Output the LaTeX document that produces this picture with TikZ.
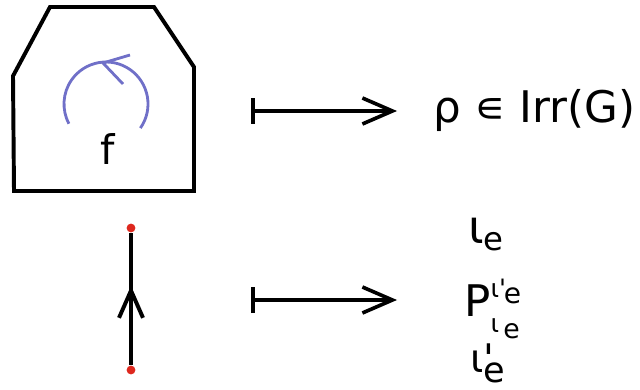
\documentclass[tikz,border=0pt]{standalone}
\usepackage{fontspec}
\setmainfont{DejaVu Sans}
\usetikzlibrary{arrows.meta,decorations.markings}
\definecolor{loopblue}{RGB}{112,112,200}
\definecolor{dotred}{RGB}{222,40,30}
\newcommand{\fs}[1]{\fontsize{#1}{#1}\selectfont}
\newcommand{\qs}{\textquotesingle}

\begin{document}
\begin{tikzpicture}[>=latex]
\tikzstyle{lbl}=[inner sep=0pt, anchor=base west]
\tikzstyle{mapsto}=[line width=2.6pt, {Bar[width=0.65cm]}-{Straight Barb[length=0.75cm,width=0.65cm]}]
\tikzstyle{vtx}=[circle, fill=dotred, inner sep=0pt, minimum size=0.22cm]
\tikzstyle{edgeline}=[line width=2.8pt, postaction={decorate},
decoration={markings, mark=at position 0.6 with {\arrow{Straight Barb[length=0.68cm,width=0.6cm]}}}]
\useasboundingbox (0,0) rectangle (16,9.725);

% face with its orientation
\draw[line width=2.8pt] (0.325,7.825) -- (1.25,9.55) -- (3.85,9.55) -- (4.85,8.05) -- (4.85,4.95) -- (0.35,4.95) -- cycle;
\draw[loopblue, line width=2pt] (2.65,7.125) ++(-35:1.05) arc[start angle=-35, end angle=208, radius=1.05];
\draw[loopblue, line width=2pt] (3.25,8.35) -- (2.575,8.15) -- (3.075,7.625);
\node[lbl, anchor=base, font=\fs{29}] (f) at (2.7,5.6) {f};

% oriented edge
\node[vtx] (v1) at (3.275,0.475) {};
\node[vtx] (v2) at (3.275,4.025) {};
\draw[edgeline] (v1) -- (v2);

% maps
\coordinate (m1s) at (6.275,6.95);
\coordinate (m1e) at (9.925,6.95);
\coordinate (m2s) at (6.275,2.225);
\coordinate (m2e) at (9.925,2.225);
\draw[mapsto] (m1s) -- (m1e);
\draw[mapsto] (m2s) -- (m2e);

% targets
\node[lbl, font=\fs{31}] (rho) at (10.825,6.65) {ρ ∊ Irr(G)};
\node[lbl, font=\fs{33}] (ie) at (11.7,3.65) {ι\raisebox{-0.175cm}{\fs{23}e}};
\node[lbl, font=\fs{31}] (P) at (11.6,1.825)
  {P\rlap{\raisebox{0.475cm}{\fs{18}ι\rlap{\qs}\raisebox{-0.15cm}{\fs{20}\,e}}}\raisebox{-0.4cm}{\fs{18}ι\,\raisebox{-0.15cm}{\fs{19}e}}};
\node[lbl, font=\fs{28}] (ie2) at (11.75,0.42) {ι\rlap{\qs}\raisebox{-0.25cm}{\fs{25}e}};

\end{tikzpicture}
\end{document}
